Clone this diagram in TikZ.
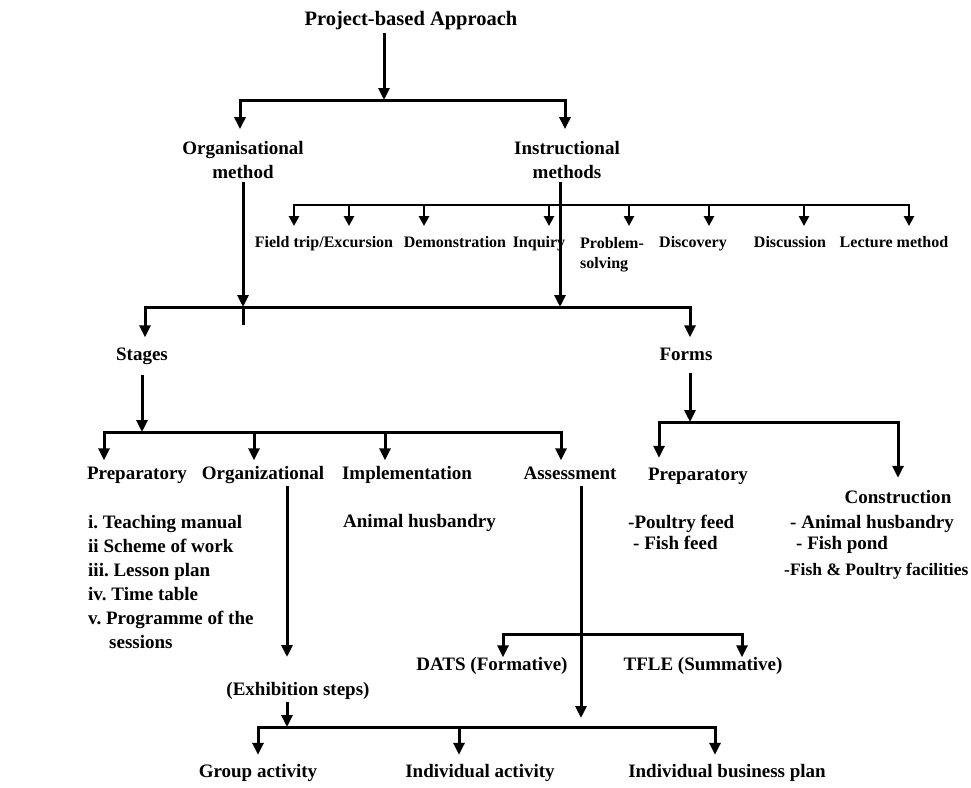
\documentclass[tikz,border=0pt]{standalone}
\usepackage{fontspec}
\setmainfont{Liberation Serif}
\usetikzlibrary{arrows.meta}
\frenchspacing
\begin{document}
\begin{tikzpicture}[x=1pt,y=-1pt,
  lab/.style={font=\fontsize{19}{24}\selectfont\bfseries, inner sep=0pt, text height=13pt, text depth=4pt},
  lab2/.style={font=\fontsize{19}{24}\selectfont\bfseries, inner sep=0pt, align=center},
  lst/.style={font=\fontsize{19}{24}\selectfont\bfseries, inner sep=0pt, align=left, anchor=north west},
  small/.style={font=\fontsize{16}{20}\selectfont\bfseries, inner sep=0pt, text height=11pt, text depth=3.5pt},
  ln/.style={line width=3pt},
  arr/.style={line width=3pt, -{Triangle[length=12pt,width=11pt]}},
  sarr/.style={line width=2.7pt, -{Triangle[length=10pt,width=10pt]}},
]
\useasboundingbox (0,0) rectangle (971,787);

% ---------- nodes ----------
\node[lab, font=\fontsize{20.5}{24}\selectfont\bfseries] (T) at (411,21) {Project-based Approach};
\node[lab2] (org) at (243,160) {Organisational\\method};
\node[lab2] (ins) at (567,160) {Instructional\\methods};

\node[small] (ft)  at (324,244) {Field trip/Excursion};
\node[small] (dem) at (455,244) {Demonstration};
\node[small] (inq) at (539,244) {Inquiry};
\node[font=\fontsize{16}{20}\selectfont\bfseries, inner sep=0pt, align=left, anchor=north west] (prob) at (580,237) {Problem-\\solving};
\node[small] (dsc) at (693,244) {Discovery};
\node[small] (dis) at (790,244) {Discussion};
\node[small] (lec) at (894,244) {Lecture method};

\node[lab] (stg) at (142,356) {Stages};
\node[lab] (frm) at (686,356) {Forms};

\node[lab] (p1) at (137,475) {Preparatory};
\node[lab] (o1) at (263,475) {Organizational};
\node[lab] (i1) at (407,475) {Implementation};
\node[lab] (a1) at (570,475) {Assessment};
\node[lab] (p2) at (698,476) {Preparatory};
\node[lab] (c2) at (898,499) {Construction};

\node[lst] (plist) at (88,515) {i. Teaching manual\\ii Scheme of work\\iii. Lesson plan\\iv. Time table\\v. Programme of the\\\hspace*{21pt}sessions};
\node[lab, anchor=west] (ah) at (343,523) {Animal husbandry};
\node[lst, font=\fontsize{19}{21}\selectfont\bfseries] (pf) at (628,515) {-Poultry feed\\\hspace*{5pt}- Fish feed};
\node[lst, font=\fontsize{19}{21}\selectfont\bfseries] (cl) at (786,515) {\hspace*{4pt}- Animal husbandry\\\hspace*{10pt}- Fish pond};
\node[lab, anchor=west, font=\fontsize{17.5}{21}\selectfont\bfseries] (cl3) at (784,571) {-Fish \& Poultry facilities};

\node[lab] (ex)   at (298,691) {(Exhibition steps)};
\node[lab] (dats) at (492,666) {DATS (Formative)};
\node[lab] (tfle) at (703,666) {TFLE (Summative)};
\node[lab] (ga)   at (258,773) {Group activity};
\node[lab] (ia)   at (480,773) {Individual activity};
\node[lab] (ibp)  at (727,773) {Individual business plan};

% ---------- junction coordinates ----------
\coordinate (j1) at (384,100);
\coordinate (b1l) at (240,100);
\coordinate (b1r) at (565,100);
\coordinate (ov) at (243,307);
\coordinate (ovend) at (243,325);
\coordinate (j2) at (560,307);
\coordinate (s2l) at (145,307);
\coordinate (s2r) at (690,307);
\coordinate (mj) at (560,205);
\coordinate (m1) at (294,205);
\coordinate (m2) at (349,205);
\coordinate (m3) at (424,205);
\coordinate (m4) at (549,205);
\coordinate (m5) at (629,205);
\coordinate (m6) at (709,205);
\coordinate (m7) at (804,205);
\coordinate (m8) at (909,205);
\coordinate (j3) at (142,432);
\coordinate (s3a) at (104,432);
\coordinate (s3b) at (254,432);
\coordinate (s3c) at (385,432);
\coordinate (s3d) at (561,432);
\coordinate (j4) at (690,422);
\coordinate (f4a) at (659,422);
\coordinate (f4b) at (898,422);
\coordinate (oz) at (287,657);
\coordinate (j5) at (287,727);
\coordinate (g5a) at (258,727);
\coordinate (g5b) at (459,727);
\coordinate (g5c) at (715,727);
\coordinate (av) at (581,718);
\coordinate (d6) at (581,634);
\coordinate (d6a) at (503,634);
\coordinate (d6b) at (742,634);

% ---------- connectors ----------
\draw[arr, shorten <=3pt] (T.south -| j1) -- (j1);
\draw[arr, shorten >=12pt] (j1) -| (b1l |- org.north);
\draw[arr, shorten >=12pt] (j1) -| (b1r |- ins.north);

\draw[arr, shorten <=3pt] (org.south -| ov) -- (ov);
\draw[ln] (ov) -- (ovend);
\draw[arr, shorten <=3pt] (ins.south -| j2) -- (j2);
\draw[arr, shorten >=10pt] (j2) -| (s2l |- stg.north);
\draw[arr, shorten >=10pt] (j2) -| (s2r |- frm.north);

\draw[sarr, shorten >=10.5pt] (mj) -| (m1 |- ft.north);
\draw[sarr, shorten >=10.5pt] (mj) -| (m8 |- lec.north);
\draw[sarr, shorten >=10.5pt] (m2) -- (m2 |- ft.north);
\draw[sarr, shorten >=10.5pt] (m3) -- (m3 |- dem.north);
\draw[sarr, shorten >=10.5pt] (m4) -- (m4 |- inq.north);
\draw[sarr, shorten >=11pt] (m5) -- (m5 |- prob.north);
\draw[sarr, shorten >=10.5pt] (m6) -- (m6 |- dsc.north);
\draw[sarr, shorten >=10.5pt] (m7) -- (m7 |- dis.north);

\draw[arr, shorten <=10pt] (stg.south -| j3) -- (j3);
\draw[arr, shorten >=6pt] (j3) -| (s3a |- p1.north);
\draw[arr, shorten >=6pt] (j3) -| (s3d |- a1.north);
\draw[arr, shorten >=6pt] (s3b) -- (s3b |- o1.north);
\draw[arr, shorten >=6pt] (s3c) -- (s3c |- i1.north);

\draw[arr, shorten <=8pt] (frm.south -| j4) -- (j4);
\draw[arr, shorten >=9.5pt] (j4) -| (f4a |- p2.north);
\draw[arr, shorten >=12.5pt] (j4) -| (f4b |- c2.north);

\draw[arr, shorten <=2pt] (o1.south -| oz) -- (oz);
\draw[arr, shorten <=2pt] (ex.south -| j5) -- (j5);
\draw[arr, shorten >=9.5pt] (j5) -| (g5a |- ga.north);
\draw[arr, shorten >=9.5pt] (j5) -| (g5c |- ibp.north);
\draw[arr, shorten >=9.5pt] (g5b) -- (g5b |- ia.north);

\draw[arr, shorten <=2pt] (a1.south -| av) -- (av);
\draw[arr] (d6) -| (d6a |- dats.north);
\draw[arr] (d6) -| (d6b |- tfle.north);
\end{tikzpicture}
\end{document}
